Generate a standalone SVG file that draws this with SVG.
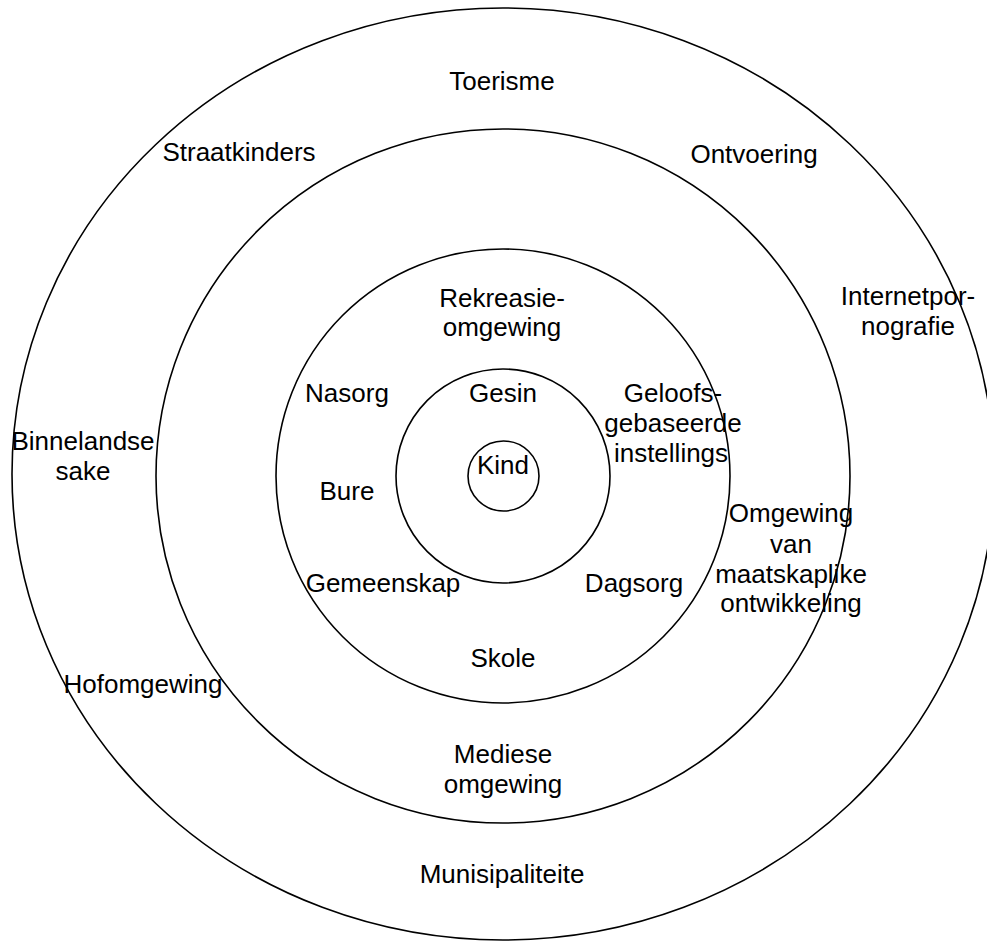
<svg xmlns="http://www.w3.org/2000/svg" width="987" height="942" viewBox="0 0 987 942">
<style>
.ring{fill:none;stroke:#000;stroke-width:1.6}
text{font-family:"Liberation Sans",Arial,sans-serif;font-size:26px;fill:#000;text-anchor:middle}
</style>
<rect width="987" height="942" fill="#fff"/>
<g id="rings">
<g id="ring-outer"><ellipse class="ring" cx="503" cy="474" rx="491" ry="466"/></g>
<g id="ring-2"><ellipse class="ring" cx="503" cy="476" rx="347" ry="347"/></g>
<g id="ring-3"><ellipse class="ring" cx="503" cy="476" rx="227" ry="227"/></g>
<g id="ring-gesin"><ellipse class="ring" cx="503" cy="476" rx="107" ry="107"/></g>
<g id="ring-kind"><ellipse class="ring" cx="503.5" cy="476" rx="35.5" ry="35"/></g>
</g>
<g id="connectors"></g>
<g id="labels">
<g id="toerisme"><text x="502" y="90">Toerisme</text></g>
<g id="straatkinders"><text x="239" y="161">Straatkinders</text></g>
<g id="ontvoering"><text x="754" y="163">Ontvoering</text></g>
<g id="internet"><text x="908" y="305">Internetpor-</text><text x="908" y="335">nografie</text></g>
<g id="rekreasie"><text x="502" y="307">Rekreasie-</text><text x="502" y="336">omgewing</text></g>
<g id="nasorg"><text x="347" y="402">Nasorg</text></g>
<g id="gesin"><text x="503" y="402">Gesin</text></g>
<g id="geloof"><text x="673" y="402">Geloofs-</text><text x="673" y="432">gebaseerde</text><text x="671" y="462">instellings</text></g>
<g id="binnelandse"><text x="83" y="450">Binnelandse</text><text x="83" y="480">sake</text></g>
<g id="bure"><text x="347" y="500">Bure</text></g>
<g id="kind"><text x="503" y="474">Kind</text></g>
<g id="omgewing-mo"><text x="791" y="522">Omgewing</text><text x="791" y="553">van</text><text x="791" y="583">maatskaplike</text><text x="791" y="612">ontwikkeling</text></g>
<g id="gemeenskap"><text x="383" y="592">Gemeenskap</text></g>
<g id="dagsorg"><text x="634" y="592">Dagsorg</text></g>
<g id="skole"><text x="503" y="667">Skole</text></g>
<g id="hofomgewing"><text x="143" y="693">Hofomgewing</text></g>
<g id="mediese"><text x="503" y="763">Mediese</text><text x="503" y="793">omgewing</text></g>
<g id="munisipaliteite"><text x="502" y="883">Munisipaliteite</text></g>
</g>
</svg>
